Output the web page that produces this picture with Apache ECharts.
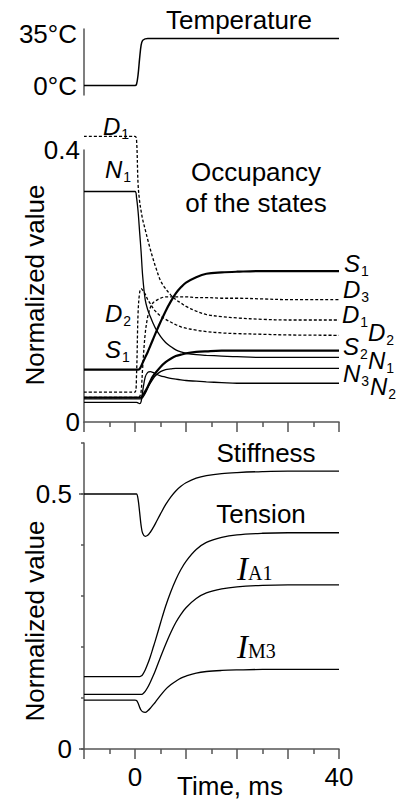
<!DOCTYPE html>
<html><head><meta charset="utf-8">
<script src="https://cdn.jsdelivr.net/npm/echarts@6/dist/echarts.min.js"></script>
<style>html,body{margin:0;padding:0;background:#fff}#c{width:397px;height:800px}</style>
</head><body><div id="c"></div>
<script>
// ---- data (time in ms) ----
const time = [-10, 0, 0.3, 0.6, 0.9, 1.2, 1.5, 2, 2.5, 3, 3.5, 4, 5, 6, 7, 8, 9, 10, 12, 14, 17, 20, 25, 30, 40];
const temperature = [0, 0, 1, 8, 20, 30, 33.5, 34.7, 35, 35, 35, 35, 35, 35, 35, 35, 35, 35, 35, 35, 35, 35, 35, 35, 35];
// occupancy of the states
const occN1 = [0.339, 0.339, 0.33, 0.31, 0.28, 0.25, 0.215, 0.18, 0.165, 0.155, 0.146, 0.138, 0.126, 0.117, 0.111, 0.106, 0.103, 0.101, 0.099, 0.098, 0.097, 0.096, 0.095, 0.095, 0.095];
const occD1 = [0.42, 0.42, 0.415, 0.35, 0.325, 0.31, 0.298, 0.283, 0.268, 0.254, 0.241, 0.229, 0.208, 0.196, 0.187, 0.18, 0.175, 0.17, 0.163, 0.158, 0.155, 0.153, 0.151, 0.15, 0.15];
const occD2 = [0.044, 0.044, 0.07, 0.16, 0.19, 0.196, 0.194, 0.188, 0.18, 0.174, 0.168, 0.163, 0.156, 0.151, 0.147, 0.143, 0.14, 0.138, 0.135, 0.133, 0.131, 0.13, 0.129, 0.128, 0.1275];
const occD3 = [0.036, 0.036, 0.036, 0.036, 0.037, 0.045, 0.08, 0.13, 0.155, 0.168, 0.175, 0.178, 0.182, 0.184, 0.184, 0.184, 0.184, 0.184, 0.183, 0.183, 0.182, 0.182, 0.181, 0.18, 0.18];
const occS1 = [0.077, 0.077, 0.077, 0.077, 0.078, 0.082, 0.087, 0.095, 0.103, 0.112, 0.121, 0.13, 0.147, 0.163, 0.177, 0.189, 0.198, 0.205, 0.213, 0.218, 0.22, 0.221, 0.222, 0.222, 0.222];
const occS2 = [0.036, 0.036, 0.036, 0.036, 0.036, 0.036, 0.039, 0.045, 0.052, 0.06, 0.067, 0.072, 0.081, 0.088, 0.093, 0.097, 0.099, 0.101, 0.103, 0.104, 0.105, 0.105, 0.105, 0.105, 0.105];
const occN3 = [0.034, 0.034, 0.034, 0.034, 0.034, 0.034, 0.036, 0.042, 0.05, 0.057, 0.063, 0.068, 0.074, 0.077, 0.078, 0.079, 0.079, 0.079, 0.079, 0.079, 0.079, 0.079, 0.079, 0.079, 0.079];
const occN2 = [0.029, 0.029, 0.029, 0.028, 0.027, 0.03, 0.045, 0.066, 0.073, 0.074, 0.073, 0.071, 0.068, 0.066, 0.064, 0.063, 0.062, 0.061, 0.06, 0.059, 0.058, 0.057, 0.057, 0.057, 0.057];
// bottom panel
const stiffness = [0.5, 0.5, 0.5, 0.49, 0.465, 0.438, 0.423, 0.417, 0.419, 0.425, 0.433, 0.442, 0.461, 0.479, 0.494, 0.506, 0.515, 0.522, 0.531, 0.536, 0.54, 0.542, 0.544, 0.545, 0.545];
const tension = [0.142, 0.142, 0.142, 0.142, 0.142, 0.143, 0.146, 0.155, 0.167, 0.181, 0.197, 0.213, 0.247, 0.28, 0.308, 0.332, 0.352, 0.368, 0.391, 0.405, 0.415, 0.42, 0.423, 0.424, 0.424];
const iA1 = [0.107, 0.107, 0.107, 0.107, 0.107, 0.107, 0.108, 0.113, 0.121, 0.131, 0.142, 0.154, 0.18, 0.205, 0.228, 0.248, 0.264, 0.277, 0.295, 0.306, 0.314, 0.318, 0.321, 0.322, 0.322];
const iM3 = [0.096, 0.096, 0.095, 0.09, 0.082, 0.076, 0.073, 0.072, 0.075, 0.08, 0.086, 0.092, 0.105, 0.117, 0.126, 0.133, 0.139, 0.143, 0.149, 0.152, 0.154, 0.155, 0.156, 0.156, 0.156];
// tick labels
const tempTicks = [0, 35];
const occTicks = [0, 0.4];
const normTicks = [0, 0.5];
const timeTicks = [0, 40];

// ---- chart ----
const SANS = '"Liberation Sans", Arial, sans-serif';
const SERIF = '"Liberation Serif", "Times New Roman", serif';
const AX = '#555';
const chart = echarts.init(document.getElementById('c'), null, {renderer: 'svg', width: 397, height: 800});

function xy(ys) { return time.map((t, i) => [t, ys[i]]); }
function line(name, ys, idx, kind) {
  return {
    name, type: 'line', xAxisIndex: idx, yAxisIndex: idx, data: xy(ys),
    showSymbol: false, symbol: 'none', smooth: 0.35, clip: false, silent: true, animation: false,
    lineStyle: {color: '#000', width: kind === 'thick' ? 2.2 : 1.3, type: kind === 'dash' ? [3, 2] : 'solid'}
  };
}
const tickLbl = {color: '#000', fontSize: 26, fontFamily: SANS};
function xAx(gi, showLabels) {
  return {
    gridIndex: gi, type: 'value', min: -10, max: 40, interval: 10, position: 'bottom',
    axisLine: {show: gi !== 0, onZero: false, lineStyle: {color: AX, width: 1.5}},
    axisTick: {show: gi !== 0, length: 10, lineStyle: {color: AX, width: 1.5}},
    minorTick: {show: gi !== 0, splitNumber: 2, length: 5, lineStyle: {color: AX, width: 1.5}},
    axisLabel: showLabels ? Object.assign({customValues: timeTicks, margin: 15}, tickLbl) : {show: false},
    splitLine: {show: false}, minorSplitLine: {show: false}
  };
}
function italicLabel(x, capY, main, s) {
  return {type: 'text', x, y: capY - 13, silent: true, style: {
    text: '{m|' + main + '}{s|' + s + '}', align: 'left', verticalAlign: 'top',
    rich: {
      m: {fontFamily: SANS, fontStyle: 'italic', fontSize: 24, fill: '#000', verticalAlign: 'top'},
      s: {fontFamily: SANS, fontSize: 14, fill: '#000', verticalAlign: 'top', padding: [13, 0, 0, 1]}
    }}};
}
function serifLabel(x, capY, s) {
  return {type: 'text', x, y: capY - 17, silent: true, style: {
    text: '{m|I}{s|' + s + '}', align: 'left', verticalAlign: 'top',
    rich: {
      m: {fontFamily: SERIF, fontStyle: 'italic', fontSize: 33, fill: '#000', verticalAlign: 'top'},
      s: {fontFamily: SERIF, fontSize: 20, fill: '#000', verticalAlign: 'top', padding: [11, 0, 0, 0]}
    }}};
}
function txt(x, y, text, size, rot) {
  return {type: 'text', x, y, rotation: rot || 0, silent: true, style: {
    text, fill: '#000', fontSize: size, fontFamily: SANS, align: 'center', verticalAlign: 'middle'}};
}
const yLine = {show: true, onZero: false, lineStyle: {color: AX, width: 1.5}};

const option = {
  animation: false,
  backgroundColor: '#fff',
  grid: [
    {left: 84, width: 255, top: 29, height: 66, outerBoundsMode: 'none'},
    {left: 84, width: 255, top: 150, height: 272, outerBoundsMode: 'none'},
    {left: 84, width: 255, top: 443, height: 306, outerBoundsMode: 'none'}
  ],
  xAxis: [xAx(0, false), xAx(1, false), xAx(2, true)],
  yAxis: [
    {gridIndex: 0, type: 'value', min: -7, max: 42, position: 'left',
      axisLine: yLine, axisTick: {show: false},
      axisLabel: Object.assign({customValues: tempTicks, margin: 7,
        formatter: v => v === 35 ? '{up|' + v + '°C}' : v + '°C',
        rich: {up: {color: '#000', fontSize: 26, fontFamily: SANS, padding: [0, 0, 9, 0]}}}, tickLbl),
      splitLine: {show: false}},
    {gridIndex: 1, type: 'value', min: 0, max: 0.4, position: 'left',
      axisLine: yLine, axisTick: {show: false},
      axisLabel: Object.assign({customValues: occTicks, margin: 4}, tickLbl),
      splitLine: {show: false}},
    {gridIndex: 2, type: 'value', min: 0, max: 0.6, interval: 0.1, position: 'left',
      axisLine: yLine,
      axisTick: {show: true, length: 3, lineStyle: {color: AX, width: 1.5}},
      axisLabel: Object.assign({customValues: normTicks, margin: 12}, tickLbl),
      splitLine: {show: false}},
    {gridIndex: 2, type: 'value', min: 0, max: 0.6, position: 'left', offset: 0,
      axisLine: {show: false, onZero: false},
      axisTick: {show: true, customValues: normTicks, length: 5, lineStyle: {color: AX, width: 1.5}},
      axisLabel: {show: false}, splitLine: {show: false}}
  ],
  series: [
    Object.assign(line('Temperature', temperature, 0, 'thin'), {lineStyle: {color: '#000', width: 1.5}}),
    line('D1', occD1, 1, 'dash'),
    line('D2', occD2, 1, 'dash'),
    line('D3', occD3, 1, 'dash'),
    line('N1', occN1, 1, 'thin'),
    line('N2', occN2, 1, 'thin'),
    line('N3', occN3, 1, 'thin'),
    line('S2', occS2, 1, 'thick'),
    line('S1', occS1, 1, 'thick'),
    line('Stiffness', stiffness, 2, 'thin'),
    line('Tension', tension, 2, 'thin'),
    line('IA1', iA1, 2, 'thin'),
    line('IM3', iM3, 2, 'thin')
  ],
  graphic: [
    txt(239, 20, 'Temperature', 26),
    txt(256, 172, 'Occupancy', 26),
    txt(256, 203, 'of the states', 26),
    txt(266, 453, 'Stiffness', 26),
    txt(261, 514, 'Tension', 26),
    txt(230, 786, 'Time, ms', 26),
    txt(35, 285, 'Normalized value', 26, Math.PI / 2),
    txt(35, 621, 'Normalized value', 26, Math.PI / 2),
    italicLabel(103, 127, 'D', '1'),
    italicLabel(105, 170, 'N', '1'),
    italicLabel(105, 314, 'D', '2'),
    italicLabel(105, 350, 'S', '1'),
    italicLabel(344, 264, 'S', '1'),
    italicLabel(343, 290, 'D', '3'),
    italicLabel(342, 315, 'D', '1'),
    italicLabel(368, 333, 'D', '2'),
    italicLabel(343, 347, 'S', '2'),
    italicLabel(368, 361, 'N', '1'),
    italicLabel(343, 374, 'N', '3'),
    italicLabel(370, 387, 'N', '2'),
    serifLabel(237, 569, 'A1'),
    serifLabel(237, 647, 'M3')
  ]
};
chart.setOption(option);
</script>
</body></html>
